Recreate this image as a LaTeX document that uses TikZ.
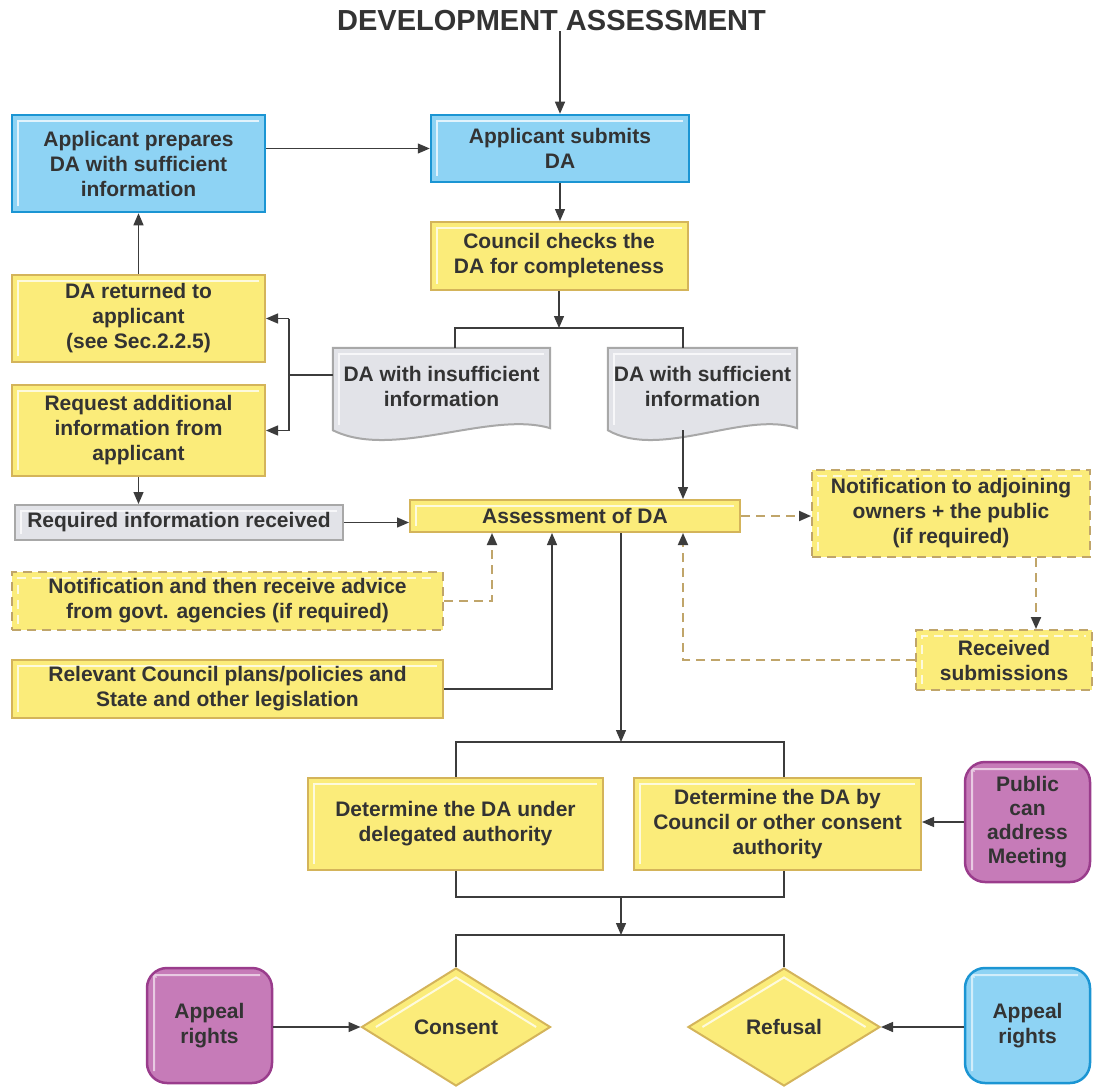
\documentclass[tikz,border=0pt]{standalone}
\usepackage{fontspec}
\setmainfont{Liberation Sans}
\usetikzlibrary{arrows.meta,shapes.geometric,calc,backgrounds}
\definecolor{txtc}{HTML}{333333}
\definecolor{linec}{HTML}{3C3C3C}
\definecolor{yfill}{HTML}{FBEC7A}
\definecolor{ybord}{HTML}{D4B45A}
\definecolor{dbord}{HTML}{C0A56A}
\definecolor{bfill}{HTML}{8ED3F4}
\definecolor{bbord}{HTML}{1B95D3}
\definecolor{gfill}{HTML}{E2E3E8}
\definecolor{gbord}{HTML}{A8A8A8}
\definecolor{mfill}{HTML}{C67BB8}
\definecolor{mbord}{HTML}{9A3C8C}
\tikzset{
  txt/.style={font=\bfseries\fontsize{21}{25}\selectfont, text=txtc, align=center, inner sep=0pt},
  hl/.style={path picture={\draw[white, opacity=0.75, line width=2pt]
      ([shift={(6pt,6pt)}]path picture bounding box.south west) --
      ([shift={(6pt,-6pt)}]path picture bounding box.north west) --
      ([shift={(-6pt,-6pt)}]path picture bounding box.north east);}},
  ybox/.style={txt, draw=ybord, fill=yfill, line width=2pt, hl},
  dbox/.style={txt, draw=dbord, fill=yfill, line width=2pt, dash pattern=on 9pt off 6pt, hl},
  bbox/.style={txt, draw=bbord, fill=bfill, line width=2.5pt, hl},
  gbox/.style={txt, draw=gbord, fill=gfill, line width=2pt, hl},
  docnode/.style={txt},
  docshape/.style={draw=gbord, fill=gfill, line width=2pt},
  mbox/.style={txt, draw=mbord, fill=mfill, line width=2.5pt, rounded corners=20pt,
      path picture={\draw[white, opacity=0.6, line width=2pt]
      ([shift={(7pt,12pt)}]path picture bounding box.south west) --
      ([shift={(7pt,-20pt)}]path picture bounding box.north west) to[out=90,in=180]
      ([shift={(20pt,-7pt)}]path picture bounding box.north west) --
      ([shift={(-12pt,-7pt)}]path picture bounding box.north east);}},
  rbbox/.style={mbox, draw=bbord, fill=bfill},
  dia/.style={txt, shape=diamond, draw=ybord, fill=yfill, line width=2pt,
      path picture={\draw[white, opacity=0.75, line width=2pt]
      ([xshift=14pt]path picture bounding box.west) --
      ([yshift=-9pt]path picture bounding box.north) --
      ([xshift=-14pt]path picture bounding box.east);}},
  title/.style={font=\bfseries\fontsize{29}{34}\selectfont, text=txtc, inner sep=0pt},
  conn/.style={draw=linec, line width=1.3pt},
  arr/.style={conn, -{Triangle[length=12pt,width=10pt]}},
  dconn/.style={draw=dbord, line width=2pt, dash pattern=on 9pt off 6pt},
  darr/.style={dconn, -{Triangle[length=12pt,width=10pt,color=linec]}},
}
\begin{document}
\begin{tikzpicture}[x=1pt,y=-1pt]
\useasboundingbox (0,0) rectangle (1094,1086);

% title and top boxes
\node[title] (title) at (551.5,21) {DEVELOPMENT ASSESSMENT};
\node[bbox, minimum width=253pt, minimum height=97pt] (prep) at (138.5,163.5) {Applicant prepares\\DA with sufficient\\information};
\node[bbox, minimum width=258pt, minimum height=67pt] (submit) at (560,148.5) {Applicant submits\\DA};
\node[ybox, minimum width=257pt, minimum height=68pt] (check) at (559,256) {Council checks the\\DA for completeness};
\node[ybox, minimum width=253pt, minimum height=87pt] (returned) at (138.5,318.5) {DA returned to\\applicant\\(see Sec.2.2.5)};
\node[ybox, minimum width=253pt, minimum height=91pt] (request) at (138.5,430.5) {Request additional\\information from\\applicant};

% documents
\node[docnode, minimum width=217pt, minimum height=77pt] (ins) at (441.5,386.5) {DA with insufficient\\information};
\node[docnode, minimum width=189pt, minimum height=77pt] (suf) at (702.5,386.5) {DA with sufficient\\information};
\begin{scope}[on background layer]
  \fill[white] (0,0) rectangle (1094,1086);
  \draw[docshape] (ins.north west) -- (ins.north east) -- ($(ins.south east)+(0,3)$)
     .. controls ($(ins.south east)+(-60,-15)$) and ($(ins.south west)+(60,35)$) .. ($(ins.south west)+(0,5)$) -- cycle;
  \draw[docshape] (suf.north west) -- (suf.north east) -- ($(suf.south east)+(0,3)$)
     .. controls ($(suf.south east)+(-52,-15)$) and ($(suf.south west)+(52,35)$) .. ($(suf.south west)+(0,5)$) -- cycle;
  \draw[white, opacity=0.75, line width=2pt] ($(ins.south west)+(6,0)$) -- ($(ins.north west)+(6,6)$) -- ($(ins.north east)+(-6,6)$);
  \draw[white, opacity=0.75, line width=2pt] ($(suf.south west)+(6,0)$) -- ($(suf.north west)+(6,6)$) -- ($(suf.north east)+(-6,6)$);
\end{scope}

% middle
\node[gbox, minimum width=328pt, minimum height=35pt] (reqinfo) at (179,522.5) {Required information received};
\node[ybox, minimum width=330pt, minimum height=32pt] (assess) at (575,516) {Assessment of DA};
\node[dbox, minimum width=278pt, minimum height=87pt] (notif) at (951,513.5) {Notification to adjoining\\owners + the public\\(if required)};
\node[dbox, minimum width=176pt, minimum height=60pt] (recv) at (1004,660) {Received\\submissions};
\node[dbox, minimum width=431pt, minimum height=58pt] (govt) at (227.5,601) {Notification and then receive advice\\from govt. agencies (if required)};
\node[ybox, minimum width=431pt, minimum height=58pt] (plans) at (227.5,689) {Relevant Council plans/policies and\\State and other legislation};

% determination
\node[ybox, minimum width=295pt, minimum height=92pt] (detdel) at (455.5,824) {Determine the DA under\\delegated authority};
\node[ybox, minimum width=287pt, minimum height=92pt] (detcou) at (777.5,824) {Determine the DA by\\Council or other consent\\authority};
\node[mbox, font=\bfseries\fontsize{21}{24}\selectfont, minimum width=125pt, minimum height=120pt] (public) at (1027.5,822) {Public\\can\\address\\Meeting};

% outcomes
\node[dia, minimum width=189pt, minimum height=118pt] (consent) at (456,1027) {Consent};
\node[dia, minimum width=192pt, minimum height=118pt] (refusal) at (784,1027) {Refusal};
\node[mbox, minimum width=125pt, minimum height=115pt] (appeal1) at (209.5,1025.5) {Appeal\\rights};
\node[rbbox, minimum width=125pt, minimum height=115pt] (appeal2) at (1027.5,1025.5) {Appeal\\rights};

% junction coordinates
\coordinate (split1) at (559,328);
\coordinate (c1) at (455,328);
\coordinate (c2) at (683,328);
\coordinate (bk) at (289,375);
\coordinate (nx) at (1036,557);
\coordinate (gx) at (492,601);
\coordinate (px) at (552,689);
\coordinate (s2) at (621,742);
\coordinate (d1) at (456,742);
\coordinate (d2) at (784,742);
\coordinate (m1) at (456,897);
\coordinate (m2) at (784,897);
\coordinate (mm) at (621,897);
\coordinate (o1) at (456,935);
\coordinate (o2) at (784,935);
\coordinate (oo) at (621,935);
\coordinate (sufb) at (683,430);

% connectors
\draw[arr] (title.south -| submit.north) -- (submit.north);
\draw[arr] (prep.east |- submit) -- (submit.west);
\draw[arr] (submit.south) -- (submit.south |- check.north);
\draw[arr] (check.south) -- (split1);
\draw[conn] (c1 |- ins.north) -- (c1) -- (c2) -- (c2 |- suf.north);
\draw[conn] (bk -| ins.west) -- (bk);
\draw[conn] (bk |- returned.east) -- (bk |- request.east);
\draw[arr] (bk |- returned.east) -- (returned.east);
\draw[arr] (bk |- request.east) -- (request.east);
\draw[arr] (returned.north) -- (prep.south);
\draw[arr] (request.south) -- (request.south |- reqinfo.north);
\draw[arr] (reqinfo.east) -- (reqinfo.east -| assess.west);
\draw[arr] (sufb) -- (sufb |- assess.north);
\draw[darr] (assess.east) -- (assess.east -| notif.west);
\draw[darr] (nx |- notif.south) -- (nx |- recv.north);
\draw[darr] (recv.west) -| (c2 |- assess.south);
\draw[darr] (govt.east) -| (gx |- assess.south);
\draw[arr] (plans.east) -| (px |- assess.south);
\draw[arr] (s2 |- assess.south) -- (s2);
\draw[conn] (d1 |- detdel.north) -- (d1) -- (d2) -- (d2 |- detcou.north);
\draw[arr] (public.west) -- (public.west -| detcou.east);
\draw[conn] (m1 |- detdel.south) -- (m1) -- (m2) -- (m2 |- detcou.south);
\draw[arr] (mm) -- (oo);
\draw[conn] (consent.north) -- (o1) -- (o2) -- (refusal.north);
\draw[arr] (appeal1.east |- consent) -- (consent.west);
\draw[arr] (appeal2.west |- refusal) -- (refusal.east);
\end{tikzpicture}
\end{document}
